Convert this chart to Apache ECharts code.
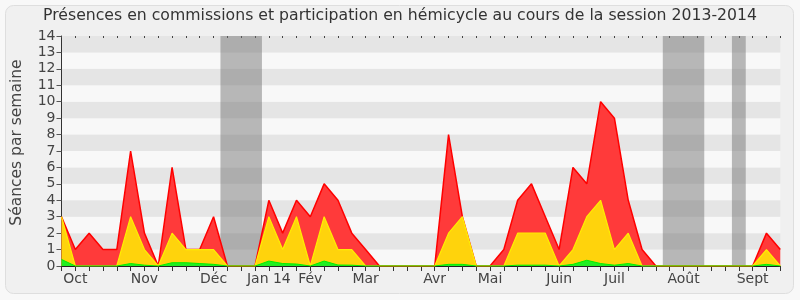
<!DOCTYPE html>
<html><head><meta charset="utf-8">
<script src="https://cdn.jsdelivr.net/npm/echarts@6/dist/echarts.min.js"></script>
<style>html,body{margin:0;padding:0;background:#f8f8f8;}#c{width:800px;height:300px;}</style>
</head><body><div id="c"></div>
<script>
// weekly index 0..52 (session 2013-2014)
const totalSeances = [3,1,2,1,1,7,2,0,6,1,1,3,0,0,0,4,2,4,3,5,4,2,1,0,0,0,0,0,8,3,0,0,1,4,5,3,1,6,5,10,9,4,1,0,0,0,0,0,0,0,0,2,1];
const commissions  = [3,0,0,0,0,3,1,0,2,1,1,1,0,0,0,3,1,3,0,3,1,1,0,0,0,0,0,0,2,3,0,0,0,2,2,2,0,1,3,4,1,2,0,0,0,0,0,0,0,0,0,1,0];
const hemicycle    = [0.4,0,0,0,0,0.15,0.05,0,0.2,0.2,0.15,0.1,0,0,0,0.3,0.15,0.12,0,0.3,0.06,0.05,0,0,0,0,0,0,0.1,0.1,0,0,0,0.05,0.05,0.05,0,0.1,0.35,0.15,0.05,0.15,0,0,0,0,0,0,0,0,0,0.1,0];
const monthWeeks  = [1,6,11,15,18,22,27,31,36,40,45,50];
const monthNames  = ['Oct','Nov','Déc','Jan 14','Fév','Mar','Avr','Mai','Juin','Juil','Août','Sept'];
const vacations   = [[11.5,14.5],[43.5,46.5],[48.5,49.5]];
const yTicks = [0,1,2,3,4,5,6,7,8,9,10,11,12,13,14];

const pairs = arr => arr.map((v,i)=>[i,v]);
const font = 'DejaVu Sans';
const chart = echarts.init(document.getElementById('c'), null, {renderer:'canvas'});
chart.setOption({
  backgroundColor:'#f8f8f8',
  animation:false,
  graphic:[{type:'rect',z:-10,shape:{x:5.5,y:5.5,width:788,height:288,r:8},style:{fill:'#f0f0f0',stroke:'#dedede',lineWidth:1}}],
  title:{text:'Présences en commissions et participation en hémicycle au cours de la session 2013-2014',
    left:'center',top:3,textStyle:{fontFamily:font,fontSize:15.7,fontWeight:'normal',color:'#333'}},
  grid:{left:61.5,right:19.7,top:36,bottom:34,containLabel:false},
  xAxis:[{type:'value',min:0,max:52,interval:1,
    axisLine:{lineStyle:{color:'#222',width:1}},
    axisTick:{show:true,length:5,lineStyle:{color:'#333'}},
    splitLine:{show:false},
    axisLabel:{margin:6,fontFamily:font,fontSize:14,color:'#444',showMinLabel:true,showMaxLabel:true,
      formatter:v=>{const i=monthWeeks.indexOf(v);return i>=0?monthNames[i]:'';}}},
   {type:'value',position:'top',min:0,max:52,interval:1,
    axisLine:{show:false},axisTick:{show:true,inside:true,length:2,lineStyle:{color:'#444'}},
    axisLabel:{show:false},splitLine:{show:false}}],
  yAxis:{type:'value',min:0,max:14,interval:1,
    name:'Séances par semaine',nameLocation:'middle',nameGap:37,nameRotate:90,
    nameTextStyle:{fontFamily:font,fontSize:15.5,color:'#444',padding:[0,0,0,17]},
    axisLine:{show:true,lineStyle:{color:'#333'}},
    axisTick:{show:true,length:5,lineStyle:{color:'#555'}},
    axisLabel:{margin:6,fontFamily:font,fontSize:14,color:'#444',formatter:v=>yTicks.includes(v)?String(v):''},
    splitLine:{show:false},
    splitArea:{show:true,areaStyle:{color:['#f8f8f8','#e5e5e5']}}},
  series:[
    {type:'line',name:'total',data:pairs(totalSeances),showSymbol:false,z:2,
     lineStyle:{color:'#ff0000',width:1.5},areaStyle:{color:'#ff3a3a',opacity:1},
     markArea:{silent:true,itemStyle:{color:'rgba(110,110,110,0.47)'},
       data:vacations.map(v=>[{xAxis:v[0]},{xAxis:v[1]}])}},
    {type:'line',name:'commissions',data:pairs(commissions),showSymbol:false,z:3,
     lineStyle:{color:'#ffee00',width:1.2},areaStyle:{color:'#ffd30c',opacity:1}},
    {type:'line',name:'hemicycle',data:pairs(hemicycle),showSymbol:false,z:4,
     lineStyle:{color:'#00ee00',width:1},areaStyle:{color:'#22ee22',opacity:1}}
  ]
});
</script></body></html>
